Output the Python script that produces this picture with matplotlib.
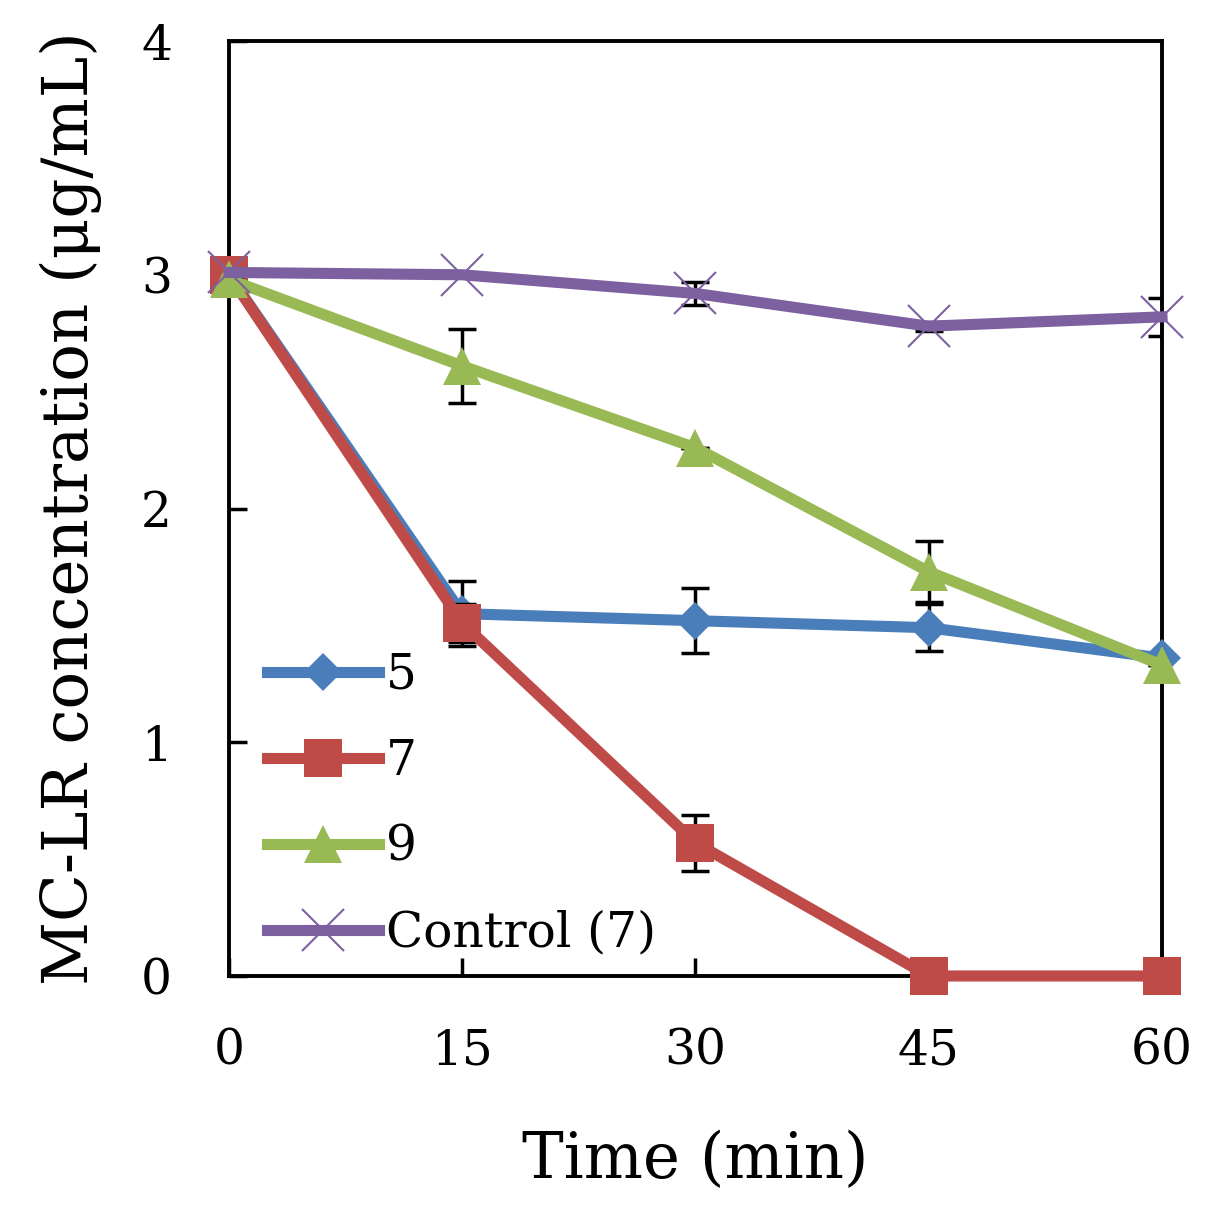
import matplotlib
matplotlib.use('Agg')
import matplotlib.pyplot as plt
import numpy as np

time = [0, 15, 30, 45, 60]
labels = ['5', '7', '9', 'Control (7)']
ph5 = [3.0, 1.55, 1.52, 1.49, 1.36]
ph7 = [3.0, 1.51, 0.57, 0.0, 0.0]
ph9 = [2.98, 2.61, 2.26, 1.73, 1.33]
control = [3.01, 3.0, 2.92, 2.78, 2.82]
err5 = [0, 0.14, 0.14, 0.10, 0]
err7 = [0, 0.08, 0.12, 0, 0]
err9 = [0, 0.16, 0, 0.13, 0]
err_ctrl = [0, 0, 0.05, 0.02, 0.08]

colors = ['#4a7ebb', '#be4b48', '#98b954', '#7d60a0']
markers = ['D', 's', '^', 'x']
msizes = [19, 27, 27, 30]

plt.rcParams['font.family'] = ['DejaVu Serif']

fig = plt.figure(figsize=(12.27, 12.18), dpi=100)
ax = fig.add_axes([0.1866, 0.1987, 0.7604, 0.7676])

series = [ph5, ph7, ph9, control]
errs = [err5, err7, err9, err_ctrl]
for i, (y, e) in enumerate(zip(series, errs)):
    ax.errorbar(time, y, yerr=e, fmt='none', ecolor='black', elinewidth=2.5,
                capsize=10, capthick=2.5, zorder=2 + i * 2)
    ax.plot(time, y, color=colors[i], marker=markers[i], markersize=msizes[i],
            linewidth=8, markeredgewidth=1.5 if markers[i] == 'x' else 0,
            label=labels[i], zorder=3 + i * 2, clip_on=False)

ax.set_xlim(0, 60)
ax.set_ylim(0, 4)
ax.set_xticks(time)
ax.set_yticks([0, 1, 2, 3, 4])
ax.tick_params(direction='in', length=13, width=2.5, labelsize=35, pad=37)
ax.tick_params(axis='y', pad=41)
for s in ax.spines.values():
    s.set_linewidth(2.8)

ax.set_xlabel('Time (min)', fontsize=45, labelpad=40)
ax.set_ylabel('MC-LR concentration (\u03bcg/mL)', fontsize=45, labelpad=28)

ax.legend(loc='lower left', bbox_to_anchor=(0.02, 0.0), frameon=False,
          fontsize=35, handlelength=2.3, handletextpad=0.15, labelspacing=0.8,
          borderaxespad=0.0)

fig.savefig('out.png', dpi=100)
